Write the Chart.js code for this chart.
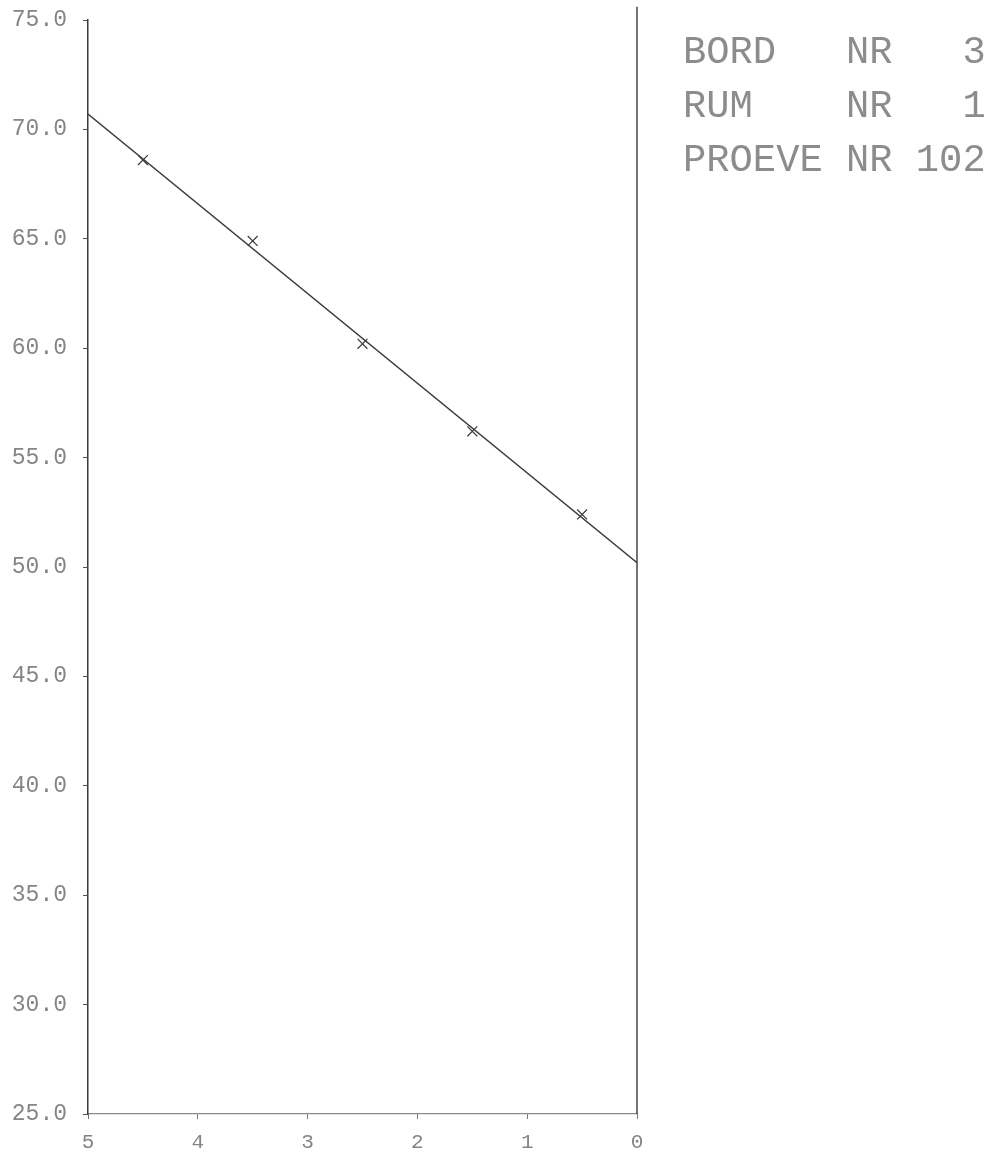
<!DOCTYPE html>
<html>
<head>
<meta charset="utf-8">
<script src="https://cdn.jsdelivr.net/npm/chart.js@4/dist/chart.umd.min.js"></script>
<style>
  html, body { margin: 0; padding: 0; background: #fff; }
  #wrap { width: 1000px; height: 1154px; }
</style>
</head>
<body>
<div id="wrap"><canvas id="plot"></canvas></div>
<script>
// measured points (x = depth, y = value)
const depth = [4.5, 3.5, 2.5, 1.5, 0.5];
const values = [68.6, 64.9, 60.2, 56.2, 52.4];

// fitted line end points
const fitX = [5, 0];
const fitY = [70.7, 50.2];

// right-hand reference line at x = 0
const refX = [0, 0];
const refY = [25, 75.6];

const yTicks = [25, 30, 35, 40, 45, 50, 55, 60, 65, 70, 75];
const xTicks = [0, 1, 2, 3, 4, 5];

const infoLines = ["BORD   NR   3", "RUM    NR   1", "PROEVE NR 102"];

const ink = "#3a3a3a";
const grayText = "#858585";
const mono = "'Liberation Mono', 'DejaVu Sans Mono', monospace";

const infoText = {
  id: "infoText",
  afterDraw(chart) {
    const ctx = chart.ctx;
    ctx.save();
    ctx.fillStyle = "#8c8c8c";
    ctx.font = "38.8px " + mono;
    ctx.textBaseline = "alphabetic";
    infoLines.forEach((line, i) => {
      ctx.fillText(line, 683, 63 + i * 54);
    });
    ctx.restore();
  }
};

new Chart(document.getElementById("plot").getContext("2d"), {
  type: "scatter",
  data: {
    datasets: [
      {
        label: "fit",
        type: "line",
        data: fitX.map((x, i) => ({ x, y: fitY[i] })),
        borderColor: ink,
        borderWidth: 1.3,
        pointRadius: 0,
        showLine: true,
        fill: false
      },
      {
        label: "ref",
        type: "line",
        data: refX.map((x, i) => ({ x, y: refY[i] })),
        borderColor: ink,
        borderWidth: 1.4,
        pointRadius: 0,
        showLine: true,
        fill: false,
        clip: false
      },
      {
        label: "proeve",
        data: depth.map((x, i) => ({ x, y: values[i] })),
        pointStyle: "crossRot",
        pointRadius: 7,
        borderColor: ink,
        borderWidth: 1.2,
        backgroundColor: ink
      }
    ]
  },
  options: {
    responsive: true,
    maintainAspectRatio: false,
    animation: false,
    layout: { padding: { top: 20, right: 363, bottom: 0, left: 0 } },
    plugins: {
      legend: { display: false },
      tooltip: { enabled: false }
    },
    scales: {
      x: {
        type: "linear",
        reverse: true,
        min: 0,
        max: 5,
        afterBuildTicks: scale => {
          scale.ticks = xTicks.map(v => ({ value: v }));
        },
        afterFit: scale => {
          scale.height = 40;
          scale.paddingLeft = 0;
          scale.paddingRight = 0;
        },
        ticks: {
          color: grayText,
          font: { family: mono, size: 21 },
          padding: 11,
          maxRotation: 0,
          callback: v => String(v)
        },
        grid: {
          drawOnChartArea: false,
          tickLength: 5,
          color: "#777"
        },
        border: { color: "#8a8a8a", width: 1.2, dash: [5, 2] }
      },
      y: {
        min: 25,
        max: 75,
        afterBuildTicks: scale => {
          scale.ticks = yTicks.map(v => ({ value: v }));
        },
        afterFit: scale => {
          scale.width = 88;
          scale.paddingTop = 0;
          scale.paddingBottom = 0;
        },
        ticks: {
          color: grayText,
          font: { family: mono, size: 23 },
          padding: 16,
          callback: v => Number(v).toFixed(1)
        },
        grid: {
          drawOnChartArea: false,
          tickLength: 5,
          color: "#555"
        },
        border: { color: ink, width: 1.5 }
      }
    }
  },
  plugins: [infoText]
});
</script>
</body>
</html>
